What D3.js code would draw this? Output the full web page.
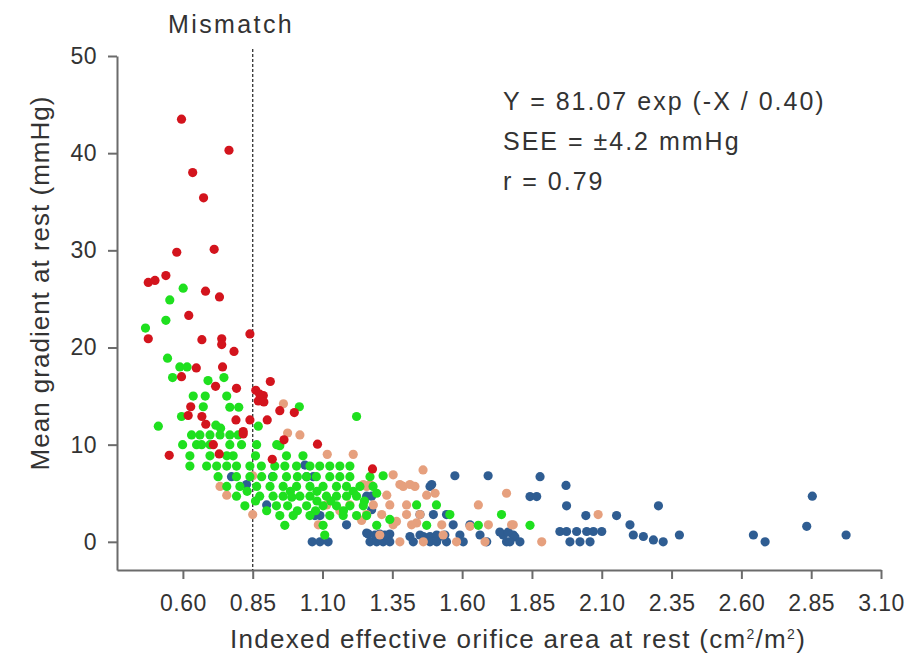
<!DOCTYPE html>
<html>
<head>
<meta charset="utf-8">
<script src="https://cdn.jsdelivr.net/npm/d3@7"></script>
<style>
  body { margin: 0; background: #fff; }
  text { font-family: "Liberation Sans", Arial, sans-serif; fill: #333; }
</style>
</head>
<body>
<div id="chart"></div>
<script>
const xTicks = [0.60, 0.85, 1.10, 1.35, 1.60, 1.85, 2.10, 2.35, 2.60, 2.85, 3.10]
const yTicks = [0, 10, 20, 30, 40, 50]
const mismatchCut = 0.85
const fitLines = ["Y = 81.07 exp (-X / 0.40)", "SEE = \u00b14.2 mmHg", "r = 0.79"]

// [EOAi, mean gradient]
const redPts = [
    [0.595, 43.5], [0.765, 40.3], [0.635, 38.0], [0.674, 35.4], [0.578, 29.8], [0.712, 30.1],
    [0.476, 26.7], [0.50, 26.9], [0.539, 27.4], [0.681, 25.8], [0.731, 25.2], [0.621, 23.3],
    [0.476, 20.9], [0.668, 20.8], [0.739, 20.9], [0.739, 20.3], [0.783, 19.6], [0.84, 21.4],
    [0.648, 17.9], [0.742, 18.0], [0.595, 17.0], [0.717, 16.0], [0.792, 15.8], [0.861, 15.6],
    [0.888, 15.05], [0.913, 16.5], [0.87, 14.5], [0.89, 14.4], [0.875, 15.2],
    [0.947, 13.5], [0.999, 13.3], [1.082, 10.05], [0.962, 10.5], [0.92, 8.5], [0.902, 12.55],
    [0.84, 12.55], [0.79, 12.55], [0.816, 11.35], [0.816, 11.1],
    [0.668, 12.9], [0.682, 12.1], [0.628, 13.9], [0.619, 13.0], [0.709, 10.0], [0.730, 9.05],
    [0.551, 8.9], [1.279, 7.5]
]

const greenPts = [
    [0.601, 26.1], [0.553, 24.9], [0.539, 22.8], [0.466, 22.0], [0.545, 18.9], [0.589, 18.0],
    [0.615, 18.0], [0.563, 16.9], [0.69, 16.6], [0.747, 16.9], [0.637, 15.0], [0.68, 15.0],
    [0.757, 15.0], [0.673, 13.9], [0.768, 13.85], [0.80, 13.85], [1.017, 13.9], [1.222, 12.9],
    [0.595, 12.9], [0.512, 11.9], [0.718, 12.0], [0.735, 11.7], [0.87, 11.9],
    [0.631, 11.0], [0.661, 11.0], [0.697, 11.0], [0.733, 11.0], [0.768, 11.0], [0.798, 11.0],
    [0.599, 10], [0.649, 10], [0.667, 10], [0.697, 10], [0.768, 10], [0.81, 10], [0.864, 10],
    [0.936, 10], [0.947, 9.9],
    [0.625, 8.85], [0.697, 8.85], [0.757, 8.85], [0.78, 8.85], [0.971, 8.85], [0.86, 8.85], [1.03, 8.85],
    [0.625, 7.8], [0.685, 7.8], [0.721, 7.8], [0.757, 7.8], [0.792, 7.8], [0.84, 7.8], [0.881, 7.8],
    [0.929, 7.8], [0.965, 7.8], [1.007, 7.8], [1.055, 7.8], [1.09, 7.8], [1.126, 7.8], [1.162, 7.8],
    [1.198, 7.8],
    [0.726, 6.7], [0.792, 6.7], [0.84, 6.7], [0.882, 6.7], [0.923, 6.7], [0.971, 6.7], [1.01, 6.7],
    [1.043, 6.7], [1.078, 6.7], [1.126, 6.7], [1.162, 6.7], [1.198, 6.7], [1.27, 6.7], [1.317, 6.8],
    [0.757, 5.7], [0.804, 5.7], [0.864, 5.7], [0.912, 5.7], [0.959, 5.7], [1.007, 5.7], [1.055, 5.7],
    [1.102, 5.7], [1.15, 5.7], [1.186, 5.7], [1.234, 5.7], [1.281, 5.7],
    [0.83, 5.2], [0.985, 5.2], [1.08, 5.2], [1.21, 5.2],
    [0.792, 4.7], [0.875, 4.7], [0.923, 4.7], [0.959, 4.7], [0.99, 4.6], [1.019, 4.7], [1.055, 4.7],
    [1.114, 4.7], [1.15, 4.7], [1.186, 4.7], [1.222, 4.7], [1.294, 5.0],
    [0.86, 4.2], [1.08, 4.2], [1.13, 4.2], [1.25, 4.2],
    [0.822, 3.7], [0.935, 3.7], [0.975, 3.7], [1.043, 3.7], [1.102, 3.7], [1.15, 3.7], [1.198, 3.7],
    [1.246, 3.7], [1.437, 3.8], [1.508, 3.8],
    [0.9, 3.2], [1.01, 3.2], [1.075, 3.2], [1.175, 3.2],
    [0.947, 2.7], [0.995, 2.7], [1.055, 2.7], [1.126, 2.7], [1.174, 2.7], [1.222, 2.7], [1.258, 2.7],
    [1.556, 2.8], [1.741, 2.8], [1.341, 2.3],
    [0.965, 1.7], [1.102, 1.7], [1.294, 1.7], [1.473, 1.7], [1.658, 1.7], [1.843, 1.7],
    [1.108, 0.7]
]

const tanPts = [
    [0.733, 5.7], [0.757, 4.8], [0.85, 6.8], [0.85, 2.8], [1.085, 1.75], [1.019, 11.0], [1.117, 9.0],
    [1.21, 9.0], [1.246, 5.9], [1.27, 5.9], [0.96, 14.2], [0.975, 11.2],
    [1.353, 6.9], [1.389, 5.7], [1.431, 5.7], [1.258, 5.7], [1.33, 4.8], [1.473, 4.8],
    [1.115, 3.8], [1.198, 3.8], [1.282, 3.8], [1.341, 3.8], [1.401, 3.8], [1.162, 3.2], [1.24, 2.2],
    [1.258, 2.8], [1.312, 2.8], [1.365, 2.1], [1.437, 1.95], [1.305, 0.7], [1.377, 0], [1.532, 0.7],
    [1.377, 5.9], [1.413, 5.9], [1.503, 5.0], [1.759, 5.0], [1.658, 3.8], [1.401, 2.8], [1.449, 2.8],
    [1.783, 1.75], [1.353, 1.75], [1.419, 1.75], [1.527, 1.75], [1.628, 1.6], [1.461, 0], [1.58, 0],
    [1.682, 0], [2.087, 2.8], [1.694, 1.75], [1.777, 1.75], [1.885, 0], [1.46, 7.4]
]

const bluePts = [
    [0.774, 6.7], [0.828, 5.9], [0.9, 3.8], [1.037, 7.9], [1.067, 2.8], [1.063, 0], [1.091, 0],
    [1.12, 0], [1.186, 1.75], [1.043, 6.7], [1.067, 6.7], [0.921, 6.7],
    [1.258, 4.7], [1.276, 4.7], [1.276, 3.3], [1.258, 0.9], [1.294, 0.2], [1.073, 2.7], [1.091, 2.7],
    [1.264, 0.8], [1.305, 0.8], [1.341, 0.8], [1.27, 0], [1.294, 0], [1.317, 0], [1.341, 0],
    [1.413, 0.55], [1.461, 0.55], [1.485, 0.55], [1.52, 0.55], [1.425, 0], [1.485, 0], [1.544, 0],
    [1.449, 2.8], [1.497, 2.8], [1.544, 2.8], [1.485, 5.7], [1.574, 6.8], [1.693, 6.8], [1.491, 5.9],
    [1.568, 1.75], [1.628, 1.75],
    [1.288, 0.7], [1.323, 0.7], [1.449, 0.7], [1.509, 0.7], [1.538, 0.7], [1.592, 0.7], [1.664, 0.7],
    [1.747, 0.7], [1.783, 0.7], [1.509, 0], [1.604, 0], [1.688, 0], [1.759, 0],
    [1.879, 6.7], [1.972, 5.8], [1.843, 4.66], [1.867, 4.66], [1.974, 3.7], [2.043, 2.7], [2.153, 2.7],
    [2.303, 3.7], [2.201, 1.75], [1.735, 1.0], [1.765, 1.0], [1.789, 0.5], [1.807, 0], [1.771, 0],
    [1.95, 1.06], [1.974, 1.06], [2.01, 1.06], [2.046, 1.06], [2.07, 1.06], [2.1, 1.06],
    [1.986, 0], [2.022, 0], [2.058, 0],
    [2.213, 0.7], [2.249, 0.55], [2.285, 0.2], [2.32, 0], [2.378, 0.7], [2.643, 0.7], [2.685, 0],
    [2.854, 4.7], [2.834, 1.6], [2.975, 0.7]
]

const series = [
    { name: "blue", pts: bluePts, color: "#2f5d92" },
    { name: "tan", pts: tanPts, color: "#e6a07e" },
    { name: "green", pts: greenPts, color: "#1fe01f" },
    { name: "red", pts: redPts, color: "#d3141d" }
]

const width = 910
const height = 660

const svg = d3.select("#chart")
    .append("svg")
    .attr("width", width)
    .attr("height", height)

const x = d3.scaleLinear().domain([0.364, 3.1]).range([117, 881])
const y = d3.scaleLinear().domain([-2.9, 50]).range([570, 56])

const axisColor = "#6b6b6b"

const gx = svg.append("g")
    .attr("transform", `translate(0,${y.range()[0]})`)
    .call(d3.axisBottom(x).tickValues(xTicks).tickFormat(d3.format(".2f"))
        .tickSize(9).tickSizeOuter(0).tickPadding(16))

const gy = svg.append("g")
    .attr("transform", `translate(${x.range()[0]},0)`)
    .call(d3.axisLeft(y).tickValues(yTicks).tickSize(9).tickSizeOuter(0).tickPadding(11))

for (const g of [gx, gy]) {
    g.select(".domain").attr("stroke", axisColor).attr("stroke-width", 2)
    g.selectAll(".tick line").attr("stroke", axisColor).attr("stroke-width", 2)
    g.selectAll(".tick text")
        .attr("fill", "#3a3a3a")
        .style("font-family", '"Liberation Sans", Arial, sans-serif')
        .style("font-size", "23px")
        .style("letter-spacing", "0.5px")
}

// mismatch cut-off
svg.append("line")
    .attr("x1", x(mismatchCut)).attr("x2", x(mismatchCut))
    .attr("y1", 49).attr("y2", y.range()[0])
    .attr("stroke", "#333")
    .attr("stroke-width", 1.3)
    .attr("stroke-dasharray", "3,2")

svg.append("text")
    .attr("x", 168).attr("y", 33)
    .style("font-size", "25px")
    .style("letter-spacing", "2.4px")
    .text("Mismatch")

// points
const dots = svg.append("g")
for (const s of series) {
    dots.append("g")
        .attr("class", s.name)
        .selectAll("circle")
        .data(s.pts)
        .join("circle")
        .attr("cx", d => x(d[0]))
        .attr("cy", d => y(d[1]))
        .attr("r", 4.6)
        .attr("fill", s.color)
}

// fit annotation
svg.append("g")
    .selectAll("text")
    .data(fitLines)
    .join("text")
    .attr("x", 503)
    .attr("y", (d, i) => 110 + i * 40)
    .style("font-size", "25px")
    .style("letter-spacing", "2px")
    .text(d => d)

// axis titles
const xt = svg.append("text")
    .attr("x", 518).attr("y", 648)
    .attr("text-anchor", "middle")
    .style("font-size", "26px")
    .style("letter-spacing", "1.3px")
xt.append("tspan").text("Indexed effective orifice area at rest (cm")
xt.append("tspan").attr("dy", -9).style("font-size", "14px").text("2")
xt.append("tspan").attr("dy", 9).text("/m")
xt.append("tspan").attr("dy", -9).style("font-size", "14px").text("2")
xt.append("tspan").attr("dy", 9).text(")")

svg.append("text")
    .attr("transform", "translate(49,283) rotate(-90)")
    .attr("text-anchor", "middle")
    .style("font-size", "26px")
    .style("letter-spacing", "1px")
    .text("Mean gradient at rest (mmHg)")
</script>
</body>
</html>
